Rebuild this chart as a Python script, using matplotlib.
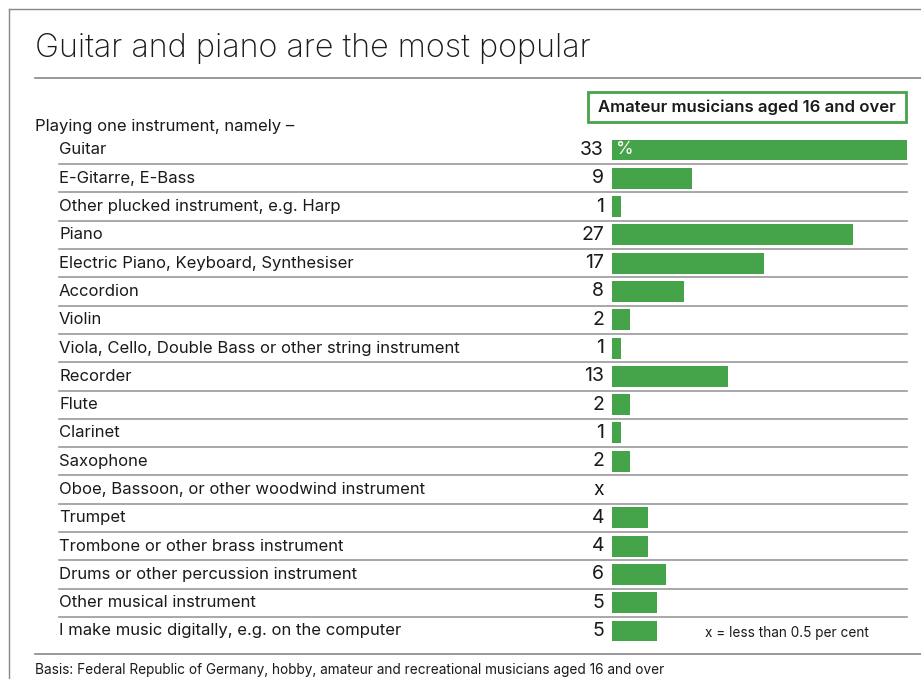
import matplotlib
matplotlib.use("Agg")
import matplotlib.pyplot as plt
from matplotlib.lines import Line2D
from matplotlib.patches import Rectangle
from matplotlib.transforms import blended_transform_factory

plt.rcParams["font.family"] = ["Inter", "DejaVu Sans"]

# ---- data ----
instruments = [
    "Guitar",
    "E-Gitarre, E-Bass",
    "Other plucked instrument, e.g. Harp",
    "Piano",
    "Electric Piano, Keyboard, Synthesiser",
    "Accordion",
    "Violin",
    "Viola, Cello, Double Bass or other string instrument",
    "Recorder",
    "Flute",
    "Clarinet",
    "Saxophone",
    "Oboe, Bassoon, or other woodwind instrument",
    "Trumpet",
    "Trombone or other brass instrument",
    "Drums or other percussion instrument",
    "Other musical instrument",
    "I make music digitally, e.g. on the computer",
]
shares = [33, 9, 1, 27, 17, 8, 2, 1, 13, 2, 1, 2, 0, 4, 4, 6, 5, 5]
share_labels = ["33", "9", "1", "27", "17", "8", "2", "1", "13", "2", "1", "2",
                "x", "4", "4", "6", "5", "5"]

title = "Guitar and piano are the most popular"
subtitle = "Playing one instrument, namely \u2013"
legend_text = "Amateur musicians aged 16 and over"
note = "x = less than 0.5 per cent"
footer = ("Basis: Federal Republic of Germany, hobby, amateur and recreational "
          "musicians aged 16 and over")

GREEN = "#45a449"
INK = "#1a1a1a"
RULE = "#9a9a9a"

W, H = 921, 679
fig = plt.figure(figsize=(W / 100, H / 100), dpi=100)


def fx(px):
    return px / W


def fy(py):
    return 1 - py / H


# bar axes: rows centred from y=150 to y=631
n = len(instruments)
row_h = (631 - 150) / (n - 1)
top = 150 - row_h / 2
bottom = 631 + row_h / 2
ax = fig.add_axes([fx(612), fy(bottom), fx(907) - fx(612), (bottom - top) / H])
ax.set_xlim(0, 33)
ax.set_ylim(n - 0.5, -0.5)
ax.axis("off")

ypos = list(range(n))
ax.barh(ypos, shares, height=0.74, color=GREEN, edgecolor="none")

tr = blended_transform_factory(fig.transFigure, ax.transData)
for i, (name, lab) in enumerate(zip(instruments, share_labels)):
    ax.text(fx(59), i, name, transform=tr, ha="left", va="center",
            fontsize=12, color=INK)
    ax.text(fx(604), i, lab, transform=tr, ha="right", va="center",
            fontsize=14, color=INK)
    if i < n - 1:
        ax.add_line(Line2D([fx(59), fx(907)], [i + 0.5, i + 0.5], transform=tr,
                           color=RULE, lw=1.2, clip_on=False))

ax.text(0.4, 0, "%", ha="left", va="center", fontsize=13, color="white")

# frame lines
fig.add_artist(Line2D([fx(9), fx(9)], [fy(9), 0], color="#888888", lw=1))
fig.add_artist(Line2D([fx(9), 1], [fy(9), fy(9)], color="#888888", lw=1))
fig.add_artist(Line2D([fx(35), 1], [fy(78), fy(78)], color="#888888", lw=1.2))
fig.add_artist(Line2D([fx(35), 1], [fy(654), fy(654)], color="#888888", lw=1.2))

fig.text(fx(35), fy(48), title, ha="left", va="center", fontsize=23.3,
         fontweight="light", color=INK)
fig.text(fx(35), fy(126), subtitle, ha="left", va="center", fontsize=12,
         color=INK)

fig.add_artist(Rectangle((fx(588), fy(122)), fx(906) - fx(588), (122 - 92) / H,
                         transform=fig.transFigure, facecolor="white",
                         edgecolor=GREEN, lw=2))
fig.text(fx(747), fy(107.5), legend_text, ha="center", va="center",
         fontsize=12, fontweight="semibold", color=INK)

fig.text(fx(705), fy(633), note, ha="left", va="center", fontsize=9.8,
         color=INK)
fig.text(fx(35), fy(670), footer, ha="left", va="center", fontsize=9.8,
         color=INK)

fig.savefig("out.png", dpi=100)
